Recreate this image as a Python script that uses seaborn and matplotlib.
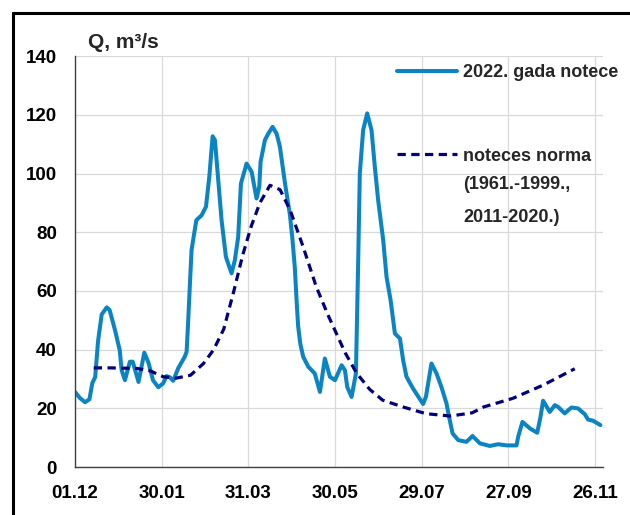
"""
River discharge 2022 vs long-term norm
"""

import numpy as np
import matplotlib
matplotlib.use("Agg")
import matplotlib.pyplot as plt
from matplotlib.patches import Rectangle
import seaborn as sns

# day index counted from 01.12.2021
flow_days = [0, 3.5, 7, 10, 12, 14, 16, 18.5, 22, 24, 27.7, 31, 32.3, 34.6, 38, 40,
             44, 48, 51, 54, 57.7, 61, 63.4, 65.7, 68, 71.5, 76, 77.3, 78.4, 79.6,
             80.7, 84, 87.7, 90.7, 93, 95.3, 96.9, 99.2, 101.5, 104.5, 108.4, 110.7,
             113, 114.9, 118.8, 122.3, 125.7, 127.6, 128.5, 131.5, 133.8, 136.8,
             139.6, 141.9, 145.3, 148.8, 150.5, 152.2, 153.4, 154.5, 156, 158,
             161.5, 166, 169.6, 173, 176.5, 180, 184.6, 186.9, 188.5, 191.5, 194.5,
             196, 197.2, 199.5, 202.3, 205.3, 207.6, 209.9, 213.4, 215.7, 218.5,
             221.5, 225, 227.2, 229.5, 234, 241, 243, 246.8, 250.3, 253.7, 257.2,
             259, 261.4, 265.3, 271, 275.2, 280.3, 287.2, 293, 298.8, 305.7, 306.8,
             309.8, 314.9, 320, 322.3, 324.1, 328.7, 332.2, 334.5, 339, 343.7,
             348.3, 353, 355.2, 358.7, 363.8]
flow_2022 = [25.6, 23.5, 22.1, 23.1, 28.6, 30.7, 43, 52, 54.4, 53.5, 46.7, 39.8, 33,
             29.6, 35.9, 35.9, 29, 39, 35.4, 29.6, 27.2, 28.5, 31, 30.6, 29.4, 33.7,
             37.6, 39.3, 50, 62.6, 73.9, 84.1, 85.8, 88.7, 98.9, 112.7, 111.4, 97.7,
             84.1, 71.6, 66, 70.5, 78.4, 96.6, 103.4, 100.6, 91.5, 95.5, 104, 111.4,
             113.6, 115.9, 113.6, 109.1, 97, 86, 78, 68, 57, 48, 42, 37.6,
             34.2, 31.9, 25.6, 37, 30.8, 29.6, 34.7, 33, 27.3, 23.9, 31.9,
             68.2, 100, 114.8, 120.5, 114.8, 102.3, 90.9, 77.3, 64.8, 56.9,
             45.5, 43.8, 36.4, 30.8, 26.8, 21.5, 24, 35.3, 31.9, 27.3, 21.7,
             17.1, 11.5, 9.2, 8.6, 10.6, 8.1, 7.2, 7.8, 7.4, 7.4, 10.3,
             15.4, 13.2, 11.7, 17.1, 22.6, 18.8, 21.1, 20.5, 18.3, 20.3,
             20, 18, 16.2, 15.8, 14.3]

norm_days = [13, 25, 43, 52, 61, 70, 80, 89, 96, 103, 110, 116, 122, 128, 135, 142,
             149, 158, 167, 175, 187, 195, 204, 213, 227, 243, 260, 275, 283, 303,
             324, 346]
norm_flow = [33.8, 33.8, 33.6, 32.8, 30.8, 30.3, 31.3, 35.3, 40, 47, 60, 72, 82, 90,
             96, 94.5, 87.5, 75, 61.5, 52, 39, 32, 26.5, 22.8, 20.5, 18.2, 17.4, 18.5,
             20.5, 23.4, 27.9, 33.5]

tick_days = [0, 60, 120, 180, 240, 300, 360]
tick_labels = ["01.12", "30.01", "31.03", "30.05", "29.07", "27.09", "26.11"]

series_label = "2022. gada notece"
norm_label = "noteces norma"
norm_note = "(1961.-1999.,\n2011-2020.)"

BLUE = "#0B84C4"
NAVY = "#000080"

sns.set_theme(style="whitegrid")
plt.rcParams["font.family"] = ["Liberation Sans", "DejaVu Sans"]
plt.rcParams["font.weight"] = "bold"

fig = plt.figure(figsize=(6.3, 5.15), dpi=100)
ax = fig.add_axes([0.119, 0.093, 0.838, 0.798])

sns.lineplot(x=flow_days, y=flow_2022, ax=ax, color=BLUE, linewidth=2.9,
             sort=False, estimator=None, label=series_label)
sns.lineplot(x=norm_days, y=norm_flow, ax=ax, color=NAVY, linewidth=2.3,
             sort=False, estimator=None, label=norm_label)
ax.lines[1].set_linestyle((0, (2.6, 1.7)))

ax.set_xlim(0, 365.5)
ax.set_ylim(0, 140)
ax.set_yticks(range(0, 141, 20))
ax.set_xticks(tick_days)
ax.set_xticklabels(tick_labels)
ax.tick_params(axis="both", length=0, pad=13, labelsize=13.5, labelcolor="black")
for lbl in ax.get_xticklabels() + ax.get_yticklabels():
    lbl.set_fontweight("bold")

ax.set_facecolor("white")
ax.grid(True, color="#d9d9d9", linewidth=0.9)
for side in ["top", "right"]:
    ax.spines[side].set_visible(False)
for side in ["left", "bottom"]:
    ax.spines[side].set_color("#404040")
    ax.spines[side].set_linewidth(1.0)

fig.text(88 / 630, 1 - 42 / 515, "Q, m³/s", fontsize=15, fontweight="bold",
         va="center", ha="left")

leg = ax.legend(loc="upper left", bbox_to_anchor=(397 / 630, 1 - 64 / 515),
                bbox_transform=fig.transFigure, frameon=False, fontsize=13,
                handlelength=3.3, handletextpad=0.33, borderpad=0,
                borderaxespad=0, labelspacing=3.7)
for t in leg.get_texts():
    t.set_fontweight("bold")

fig.text(463 / 630, 1 - 176 / 515, norm_note, fontsize=13, fontweight="bold",
         va="top", ha="left", linespacing=2.2)

# outer frame
fig.patches.append(Rectangle((13 / 630, -0.1), 1.2, 1 - 13 / 515 + 0.1,
                             transform=fig.transFigure, fill=False,
                             edgecolor="black", linewidth=2.2))

fig.savefig("out.png", dpi=100)
